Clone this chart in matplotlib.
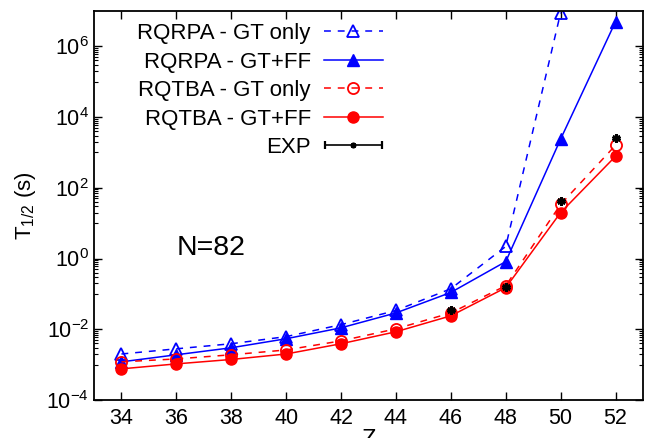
import math
import matplotlib
matplotlib.use('Agg')
import matplotlib.pyplot as plt
from matplotlib.ticker import FixedLocator, NullFormatter, FuncFormatter
from matplotlib.legend_handler import HandlerErrorbar

plt.rcParams['font.family'] = ['Liberation Sans', 'DejaVu Sans']
plt.rcParams['mathtext.default'] = 'regular'

# charge number Z
z = [34, 36, 38, 40, 42, 44, 46, 48, 50, 52]
z_gt_rqrpa = [34, 36, 38, 40, 42, 44, 46, 48, 50]

# half-lives in seconds
rqrpa_gt = [2.0e-3, 2.8e-3, 3.9e-3, 6.2e-3, 1.35e-2, 3.4e-2, 0.14, 2.2, 9.0e6]
rqrpa_gtff = [1.2e-3, 1.9e-3, 3.0e-3, 5.4e-3, 1.1e-2, 2.9e-2, 0.11, 0.82, 2.4e3, 5.0e6]
rqtba_gt = [1.2e-3, 1.45e-3, 1.9e-3, 2.6e-3, 4.7e-3, 1.03e-2, 2.9e-2, 0.17, 34.0, 1.6e3]
rqtba_gtff = [7.6e-4, 1.05e-3, 1.4e-3, 2.0e-3, 3.9e-3, 8.5e-3, 2.4e-2, 0.15, 20.0, 7.8e2]

z_exp = [46, 48, 50, 52]
exp = [3.5e-2, 0.16, 42.0, 2.5e3]
exp_err = [1.0e-3, 4.0e-3, 1.0, 1.0e2]

fig = plt.figure(figsize=(6.46, 4.38), dpi=100)
ax = fig.add_axes([94 / 646, 38 / 438, 549 / 646, 389 / 438])

ms = 8
lw = 1.1
ax.plot(z_gt_rqrpa, rqrpa_gt, color='blue', lw=lw, dashes=(4.5, 4.5), marker='^',
        ms=ms, mfc='none', mew=1.3, label='RQRPA - GT only')
ax.plot(z, rqrpa_gtff, color='blue', lw=lw, marker='^', ms=ms,
        label='RQRPA - GT+FF')
ax.plot(z, rqtba_gt, color='red', lw=lw, dashes=(4.5, 4.5), marker='o',
        ms=ms, mfc='none', mew=1.3, label='RQTBA - GT only')
ax.plot(z, rqtba_gtff, color='red', lw=lw, marker='o', ms=ms,
        label='RQTBA - GT+FF')
ax.errorbar(z_exp, exp, yerr=exp_err, fmt='none', ecolor='black', elinewidth=1.2,
            capsize=3)
ax.plot(z_exp, exp, ls='none', marker=(6, 2, 0), ms=6, mew=2, color='black')

ax.set_yscale('log')
ax.set_xlim(33, 53)
ax.set_ylim(1e-4, 1e7)
ax.set_xticks(z)
ax.yaxis.set_major_locator(FixedLocator([1e-4, 1e-2, 1, 1e2, 1e4, 1e6]))
ax.yaxis.set_minor_locator(FixedLocator([k * 10.0 ** e for e in (-3, -1, 1, 3, 5)
                                         for k in range(1, 10)]))
ax.yaxis.set_minor_formatter(NullFormatter())
ax.yaxis.set_major_formatter(FuncFormatter(lambda v, p: '10$^{%d}$' % round(math.log10(v))))

ax.tick_params(which='both', direction='in', top=True, right=True, labelsize=15.5)
ax.tick_params(which='major', length=6, width=1)
ax.tick_params(which='minor', length=3, width=0.8)
for s in ax.spines.values():
    s.set_linewidth(1.3)
ax.tick_params(axis='x', pad=6)

ax.set_xlabel('Z', fontsize=17, labelpad=0)
ax.set_ylabel('T$_{1/2}$ (s)', fontsize=16, labelpad=6)

ax.text(37.27, 1.22, 'N=82', fontsize=20.5, ha='center', va='baseline')

handles, labels = ax.get_legend_handles_labels()
# legend-only handle: horizontal bar with caps, placed outside the visible range
exp_handle = ax.errorbar([100], [1], xerr=[1], fmt='', ls='none', marker=(6, 2, 0), ms=4,
                         mew=1.6, color='black', ecolor='black', elinewidth=1.2, capsize=3)
ax.legend(handles[:4] + [exp_handle], labels[:4] + ['EXP'], loc='upper right',
          bbox_to_anchor=(383 / 646, 415 / 438), bbox_transform=fig.transFigure,
          markerfirst=False, frameon=False, fontsize=16, handlelength=2.66,
          handletextpad=0.59, labelspacing=0.34, borderpad=0, borderaxespad=0,
          handler_map={exp_handle: HandlerErrorbar(xerr_size=1.3)})

fig.savefig('out.png', dpi=100)
